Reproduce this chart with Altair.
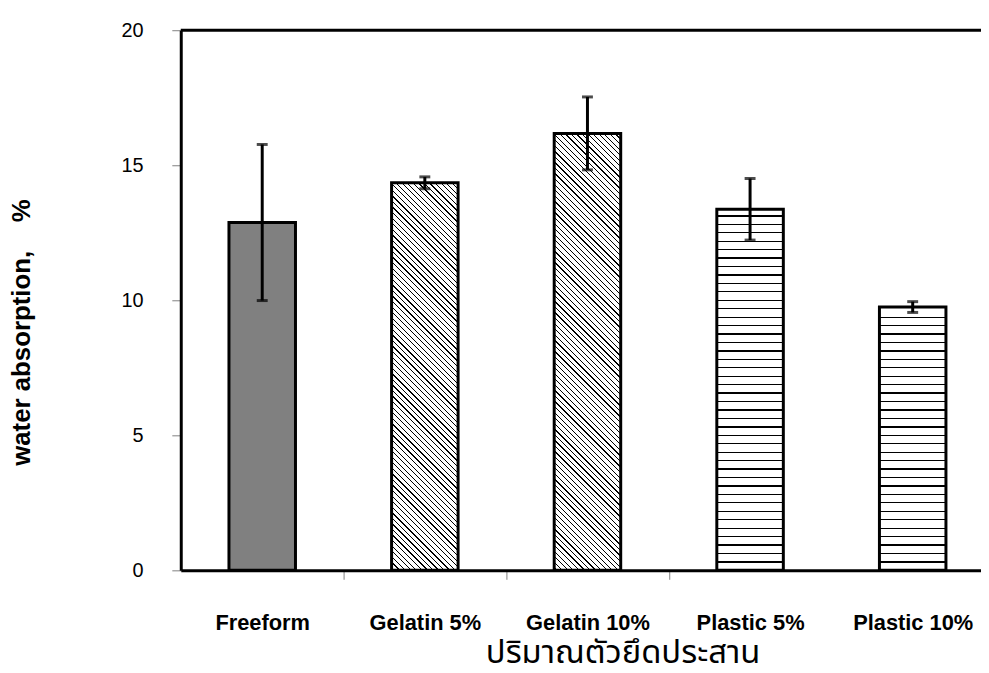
import altair as alt
import pandas as pd

# ---- data ----
categories = ["Freeform", "Gelatin 5%", "Gelatin 10%", "Plastic 5%", "Plastic 10%"]
means = [12.88, 14.35, 16.18, 13.37, 9.75]
errors = [2.89, 0.22, 1.35, 1.14, 0.20]
patterns = ["solid", "diagonal", "diagonal", "horizontal", "horizontal"]
y_ticks = [0, 5, 10, 15, 20]
x_title = "ปริมาณตัวยึดประสาน"
y_title = "water absorption,\u00a0\u00a0\u00a0\u00a0%"

# ---- layout / style ----
PLOT_W = 806
PLOT_H = 544
Y_MAX = 20
PAD_IN = 0.591
PAD_OUT = 0.256
ALIGN = 0.579
STEP = PLOT_W / (len(categories) - PAD_IN + 2 * PAD_OUT)
BAR_W = STEP * (1 - PAD_IN)
FONT = "Liberation Sans, Arial, sans-serif"
THAI_FONT = "Noto Sans Thai, Garuda, Loma, Noto Sans, sans-serif"


def stripe_stops(centers, half):
    stops = [{"offset": 0, "color": "white"}]
    last = 0.0
    for t in sorted(centers):
        a = max(last, min(1.0, t - half))
        b = max(a, min(1.0, t + half))
        stops += [
            {"offset": a, "color": "white"},
            {"offset": a, "color": "black"},
            {"offset": b, "color": "black"},
            {"offset": b, "color": "white"},
        ]
        last = b
    stops.append({"offset": 1, "color": "white"})
    return stops


def diagonal_fill(value, spacing=5.6, half_c=0.65):
    h = value / Y_MAX * PLOT_H
    w = BAR_W
    r = h / w
    denom = w * (1 + r * r)
    centers = []
    c = -h + spacing / 2
    while c < w:
        centers.append((c + h) / denom)
        c += spacing
    return {
        "gradient": "linear",
        "x1": 0, "y1": 1, "x2": 1, "y2": 1 - r,
        "stops": stripe_stops(centers, half_c / denom),
    }


def horizontal_fill(value, spacing=8.5, half_px=0.65):
    h = value / Y_MAX * PLOT_H
    centers = []
    y = h - spacing
    while y > 2:
        centers.append(y / h)
        y -= spacing
    return {
        "gradient": "linear",
        "x1": 0, "y1": 0, "x2": 0, "y2": 1,
        "stops": stripe_stops(centers, half_px / h),
    }


df = pd.DataFrame({
    "category": categories,
    "mean": means,
    "lo": [m - e for m, e in zip(means, errors)],
    "hi": [m + e for m, e in zip(means, errors)],
})

x_enc = alt.X(
    "category:N",
    scale=alt.Scale(domain=categories, paddingInner=PAD_IN,
                    paddingOuter=PAD_OUT, align=ALIGN),
    axis=alt.Axis(
        labelFont=FONT, labelFontSize=22, labelFontWeight="bold",
        labelColor="black", labelAngle=0, labelBaseline="alphabetic",
        labelPadding=51, labelOverlap=False, labelLimit=0,
        labelOffset=STEP / 2,
        tickSize=9, tickColor="#808080", tickWidth=1,
        tickOffset=-STEP / 2,
        tickOpacity={"condition": {
            "test": "indexof(['Gelatin 5%','Gelatin 10%','Plastic 5%'], datum.value) >= 0",
            "value": 1}, "value": 0},
        domainColor="black", domainWidth=3,
        titleFont=THAI_FONT, titleFontSize=33, titleFontWeight="normal",
        titleColor="black", titleX=445, titleY=93, titleAlign="center",
        titleBaseline="alphabetic",
    ),
    title=x_title,
)

y_scale = alt.Scale(domain=[0, Y_MAX], nice=False)
y_axis = alt.Axis(
    values=y_ticks, grid=False,
    tickSize=9, tickColor="#808080", tickWidth=1,
    labelFont=FONT, labelFontSize=20, labelColor="black", labelPadding=29,
    domainColor="black", domainWidth=3,
    titleFont=FONT, titleFontSize=26, titleFontWeight="bold", titleColor="black",
    titleAngle=270, titleX=-152, titleY=304, titleAlign="center",
    titleBaseline="alphabetic",
)

layers = []
for cat, val, pat in zip(categories, means, patterns):
    if pat == "solid":
        fill = "#808080"
    elif pat == "diagonal":
        fill = diagonal_fill(val)
    else:
        fill = horizontal_fill(val)
    layers.append(
        alt.Chart(df)
        .transform_filter(alt.datum.category == cat)
        .mark_bar(fill=fill, stroke="black", strokeWidth=3)
        .encode(x=x_enc, y=alt.Y("mean:Q", scale=y_scale, axis=y_axis, title=y_title))
    )

whisker = alt.Chart(df).mark_rule(color="black", strokeWidth=3).encode(
    x=x_enc, y=alt.Y("lo:Q", scale=y_scale), y2="hi:Q")
cap_lo = alt.Chart(df).mark_tick(color="black", size=11, thickness=3,
                                 orient="horizontal").encode(
    x=x_enc, y=alt.Y("lo:Q", scale=y_scale))
cap_hi = alt.Chart(df).mark_tick(color="black", size=11, thickness=3,
                                 orient="horizontal").encode(
    x=x_enc, y=alt.Y("hi:Q", scale=y_scale))
top_frame = alt.Chart(pd.DataFrame({"k": [0]})).mark_rule(
    color="black", strokeWidth=3).encode(
    x=alt.value(0), x2=alt.value(PLOT_W), y=alt.value(0))

chart = (
    alt.layer(*layers, whisker, cap_lo, cap_hi, top_frame)
    .properties(
        width=PLOT_W, height=PLOT_H,
        padding={"left": 174, "top": 20, "right": 0, "bottom": 101},
        autosize=alt.AutoSizeParams(type="none"),
    )
    .configure_view(strokeWidth=0)
)

chart.save("out.html", embed_options={"renderer": "svg", "actions": False})
